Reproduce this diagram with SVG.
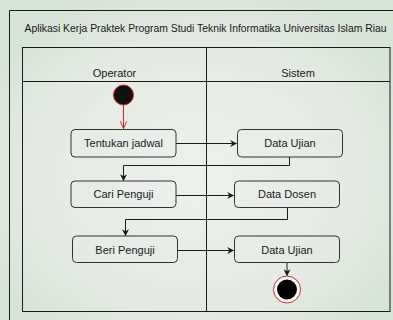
<svg xmlns="http://www.w3.org/2000/svg" width="393" height="320" viewBox="0 0 393 320">
  <defs>
    <style>
      .frame { fill: none; stroke: #1a1a1a; stroke-width: 1; }
      .box { fill: none; stroke: #333333; stroke-width: 1; }
      .flow { fill: none; stroke: #1a1a1a; stroke-width: 1; }
      .lbl { font-family: "Liberation Sans", Arial, sans-serif; font-size: 11px; fill: #1a1a1a; text-anchor: middle; }
      .title { font-family: "Liberation Sans", Arial, sans-serif; font-size: 10px; fill: #1a1a1a; }
    </style>
    <marker id="arrow" viewBox="0 0 10 10" refX="9" refY="5" markerWidth="7" markerHeight="7" orient="auto" markerUnits="userSpaceOnUse">
      <path d="M0,0 L10,5 L0,10 L3,5 Z" fill="#1a1a1a"/>
    </marker>
    <marker id="openRed" viewBox="0 0 10 10" refX="9" refY="5" markerWidth="8" markerHeight="8" orient="auto" markerUnits="userSpaceOnUse">
      <path d="M0,1 L9,5 L0,9" fill="none" stroke="#e02020" stroke-width="1.2"/>
    </marker>
    <radialGradient id="haze" cx="0.5" cy="0.55" r="0.6">
      <stop offset="0" stop-color="#eef0ee"/>
      <stop offset="0.7" stop-color="#e4eae3"/>
      <stop offset="1" stop-color="#d8e3d8"/>
    </radialGradient>
  </defs>

  <!-- page background -->
  <rect x="0" y="0" width="393" height="320" fill="url(#haze)"/>

  <!-- outer frame and title -->
  <path class="frame" d="M393,10.5 H9.5 V320"/>
  <text class="title" x="24.5" y="31.5" textLength="362" lengthAdjust="spacingAndGlyphs">Aplikasi Kerja Praktek Program Studi Teknik Informatika Universitas Islam Riau</text>

  <!-- swimlane table -->
  <g id="lanes">
    <rect class="frame" x="22.5" y="47.5" width="367.5" height="264"/>
    <line class="frame" x1="22.5" y1="81.5" x2="390" y2="81.5"/>
    <line class="frame" x1="206.5" y1="47.5" x2="206.5" y2="311.5"/>
    <text class="lbl" x="114.5" y="77">Operator</text>
    <text class="lbl" x="298" y="77">Sistem</text>
  </g>

  <!-- connectors -->
  <g id="connectors">
    <line x1="123.5" y1="105" x2="123.5" y2="128.5" fill="none" stroke="#e02020" stroke-width="1" marker-end="url(#openRed)"/>
    <line class="flow" x1="176" y1="143.5" x2="236.5" y2="143.5" marker-end="url(#arrow)"/>
    <polyline class="flow" points="289.5,157 289.5,165.5 123.5,165.5 123.5,180.5" marker-end="url(#arrow)"/>
    <line class="flow" x1="176" y1="195.5" x2="233.5" y2="195.5" marker-end="url(#arrow)"/>
    <polyline class="flow" points="287.5,207.5 287.5,219.5 125.5,219.5 125.5,235.5" marker-end="url(#arrow)"/>
    <line class="flow" x1="177.5" y1="250.5" x2="233.5" y2="250.5" marker-end="url(#arrow)"/>
    <line class="flow" x1="287" y1="263" x2="287" y2="275.5" marker-end="url(#arrow)"/>
  </g>

  <!-- start state -->
  <g id="start">
    <circle cx="123.5" cy="95" r="10" fill="#111111" stroke="#e02020" stroke-width="1"/>
  </g>

  <!-- activities -->
  <g id="tentukan-jadwal">
    <rect class="box" x="71" y="129.5" width="105" height="27.5" rx="4"/>
    <text class="lbl" x="123.5" y="147">Tentukan jadwal</text>
  </g>
  <g id="data-ujian-1">
    <rect class="box" x="237.5" y="129.5" width="105" height="27.5" rx="4"/>
    <text class="lbl" x="290" y="147">Data Ujian</text>
  </g>
  <g id="cari-penguji">
    <rect class="box" x="71" y="181" width="105" height="26.5" rx="4"/>
    <text class="lbl" x="123.5" y="198">Cari Penguji</text>
  </g>
  <g id="data-dosen">
    <rect class="box" x="234.5" y="181" width="105" height="26.5" rx="4"/>
    <text class="lbl" x="287" y="198">Data Dosen</text>
  </g>
  <g id="beri-penguji">
    <rect class="box" x="72.5" y="236" width="105" height="26.5" rx="4"/>
    <text class="lbl" x="125" y="253.5">Beri Penguji</text>
  </g>
  <g id="data-ujian-2">
    <rect class="box" x="234.5" y="236" width="105" height="26.5" rx="4"/>
    <text class="lbl" x="287" y="253.5">Data Ujian</text>
  </g>

  <!-- end state -->
  <g id="end">
    <circle cx="287" cy="289.5" r="13.5" fill="#ffffff" stroke="#e02020" stroke-width="1"/>
    <circle cx="287" cy="289.5" r="10" fill="#000000"/>
  </g>
</svg>
